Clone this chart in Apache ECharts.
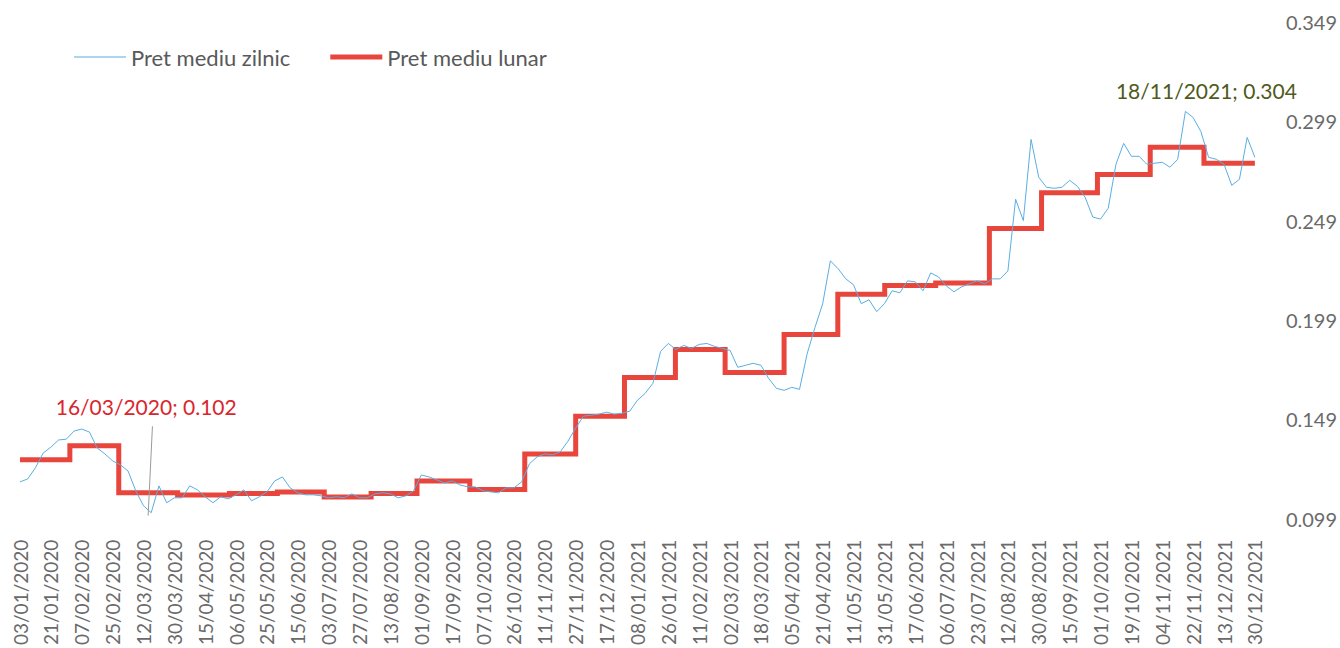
<!DOCTYPE html>
<html>
<head>
<meta charset="utf-8">
<script src="https://cdn.jsdelivr.net/npm/echarts@6/dist/echarts.min.js"></script>
<style>
  html, body { margin: 0; padding: 0; background: #ffffff; }
  #chart { width: 1340px; height: 648px; }
</style>
</head>
<body>
<div id="chart"></div>
<script>
// X-axis tick labels (one per tick, evenly spaced)
const tickLabels = ['03/01/2020','21/01/2020','07/02/2020','25/02/2020','12/03/2020','30/03/2020','15/04/2020','06/05/2020','25/05/2020','15/06/2020','03/07/2020','27/07/2020','13/08/2020','01/09/2020','17/09/2020','07/10/2020','26/10/2020','11/11/2020','27/11/2020','17/12/2020','08/01/2021','26/01/2021','11/02/2021','02/03/2021','18/03/2021','05/04/2021','21/04/2021','11/05/2021','31/05/2021','17/06/2021','06/07/2021','23/07/2021','12/08/2021','30/08/2021','15/09/2021','01/10/2021','19/10/2021','04/11/2021','22/11/2021','13/12/2021','30/12/2021'];

// Y-axis tick values
const yTicks = [0.099, 0.149, 0.199, 0.249, 0.299, 0.349];

// Daily price, sampled every quarter of a tick interval (position = index * DAILY_STEP)
const DAILY_STEP = 0.25;
const dailyPrice = [
  0.1175,0.1190,0.1246,0.1320,0.1350,0.1386,0.1390,0.1431,0.1441,0.1426,
  0.1346,0.1316,0.1281,0.1261,0.1230,0.1130,0.1055,0.1020,0.1155,0.1070,
  0.1095,0.1095,0.1155,0.1135,0.1100,0.1070,0.1100,0.1090,0.1110,0.1135,
  0.1080,0.1100,0.1125,0.1180,0.1200,0.1145,0.1120,0.1110,0.1110,0.1105,
  0.1095,0.1100,0.1095,0.1115,0.1095,0.1095,0.1115,0.1120,0.1115,0.1095,
  0.1105,0.1130,0.1210,0.1200,0.1185,0.1170,0.1180,0.1160,0.1150,0.1150,
  0.1130,0.1125,0.1120,0.1145,0.1145,0.1175,0.1266,0.1301,0.1316,0.1311,
  0.1326,0.1380,0.1446,0.1506,0.1511,0.1516,0.1526,0.1516,0.1521,0.1531,
  0.1586,0.1621,0.1671,0.1832,0.1872,0.1842,0.1862,0.1847,0.1867,0.1872,
  0.1857,0.1847,0.1837,0.1752,0.1762,0.1772,0.1762,0.1696,0.1646,0.1636,
  0.1651,0.1641,0.1822,0.1952,0.2072,0.2288,0.2248,0.2197,0.2167,0.2072,
  0.2092,0.2032,0.2072,0.2137,0.2127,0.2187,0.2182,0.2137,0.2227,0.2207,
  0.2162,0.2132,0.2157,0.2172,0.2187,0.2172,0.2197,0.2197,0.2237,0.2598,
  0.2490,0.2899,0.2708,0.2658,0.2653,0.2658,0.2693,0.2663,0.2608,0.2508,
  0.2498,0.2553,0.2774,0.2879,0.2814,0.2814,0.2774,0.2779,0.2784,0.2759,
  0.2799,0.3040,0.3009,0.2939,0.2809,0.2799,0.2774,0.2668,0.2698,0.2909,0.2809
];

// Monthly average price and month start positions (in tick-interval units)
const months = ['01/2020','02/2020','03/2020','04/2020','05/2020','06/2020','07/2020','08/2020','09/2020','10/2020','11/2020','12/2020',
                '01/2021','02/2021','03/2021','04/2021','05/2021','06/2021','07/2021','08/2021','09/2021','10/2021','11/2021','12/2021'];
const monthStart = [0, 1.615, 3.199, 5.105, 6.785, 8.336, 9.855, 11.373, 12.86, 14.57, 16.35, 18.0,
                    19.58, 21.23, 22.84, 24.75, 26.49, 28.01, 29.66, 31.4, 33.09, 34.9, 36.61, 38.35];
const monthAvg = [0.1287,0.1357,0.1120,0.1109,0.1117,0.1124,0.1099,0.1117,0.1180,0.1137,0.1316,0.1505,
                  0.1701,0.1842,0.1726,0.1917,0.2119,0.2164,0.2176,0.2451,0.2631,0.2723,0.2860,0.2779];
const lastPos = tickLabels.length - 1;

// Annotated points
const minNote = { label: '16/03/2020; 0.102', pos: 4.25, value: 0.102 };
const maxNote = { label: '18/11/2021; 0.304', pos: 37.75, value: 0.304 };

const FONT = 'Lato, "Noto Sans", sans-serif';
const DAILY_COLOR = '#5aaee2';
const MONTH_COLOR = '#e8463d';

const dailyData = dailyPrice.map((v, k) => [k * DAILY_STEP, v]);
const monthlyData = monthAvg.map((v, i) => [monthStart[i], v]);
monthlyData.push([lastPos, monthAvg[monthAvg.length - 1]]);

const chart = echarts.init(document.getElementById('chart'), null, { renderer: 'svg' });
chart.setOption({
  animation: false,
  backgroundColor: '#ffffff',
  textStyle: { fontFamily: FONT },
  grid: { left: 20, right: 82, top: 22, bottom: 127, containLabel: false },
  legend: {
    left: 69, top: 41,
    itemWidth: 52, itemHeight: 12, itemGap: 40,
    textStyle: { fontFamily: FONT, fontSize: 22, color: '#595959' },
    data: [
      { name: 'Pret mediu zilnic', icon: 'path://M0,0H52V1H0Z', itemStyle: { color: DAILY_COLOR } },
      { name: 'Pret mediu lunar', icon: 'path://M0,0H52V5H0Z', itemStyle: { color: MONTH_COLOR } }
    ]
  },
  xAxis: {
    type: 'value', min: 0, max: lastPos, interval: 1,
    axisLine: { show: false }, axisTick: { show: false }, splitLine: { show: false },
    axisLabel: {
      rotate: 90, margin: 21, fontSize: 19, color: '#6a6a6a', fontFamily: FONT,
      formatter: v => tickLabels[Math.round(v)] || ''
    }
  },
  yAxis: {
    type: 'value', position: 'right', min: yTicks[0], max: yTicks[yTicks.length - 1],
    axisLine: { show: false }, axisTick: { show: false }, splitLine: { show: false },
    axisLabel: {
      customValues: yTicks, margin: 31, fontSize: 20, color: '#6a6a6a', fontFamily: FONT,
      formatter: v => v.toFixed(3)
    }
  },
  series: [
    {
      name: 'Pret mediu zilnic', type: 'line', data: dailyData,
      showSymbol: false, symbol: 'none',
      lineStyle: { color: DAILY_COLOR, width: 1 }, itemStyle: { color: DAILY_COLOR },
      z: 3,
      markLine: {
        silent: true, symbol: 'none', label: { show: false },
        lineStyle: { color: '#9a9a9a', width: 1, type: 'solid' },
        data: [[{ coord: [minNote.pos - 0.1, minNote.value - 0.0015] }, { coord: [minNote.pos + 0.04, 0.1455] }]]
      },
      markPoint: {
        silent: true, symbol: 'circle', symbolSize: 0,
        data: [
          { coord: [minNote.pos, minNote.value], label: { show: true, position: 'inside', offset: [-5, -106], formatter: minNote.label, color: '#d9262c', fontSize: 21, fontFamily: FONT } },
          { coord: [maxNote.pos, maxNote.value], label: { show: true, position: 'inside', offset: [21, -21], formatter: maxNote.label, color: '#4f5a1c', fontSize: 21, fontFamily: FONT } }
        ]
      }
    },
    {
      name: 'Pret mediu lunar', type: 'line', data: monthlyData, step: 'end',
      showSymbol: false, symbol: 'none',
      lineStyle: { color: MONTH_COLOR, width: 5, join: 'miter' }, itemStyle: { color: MONTH_COLOR },
      z: 2
    }
  ]
});
</script>
</body>
</html>
